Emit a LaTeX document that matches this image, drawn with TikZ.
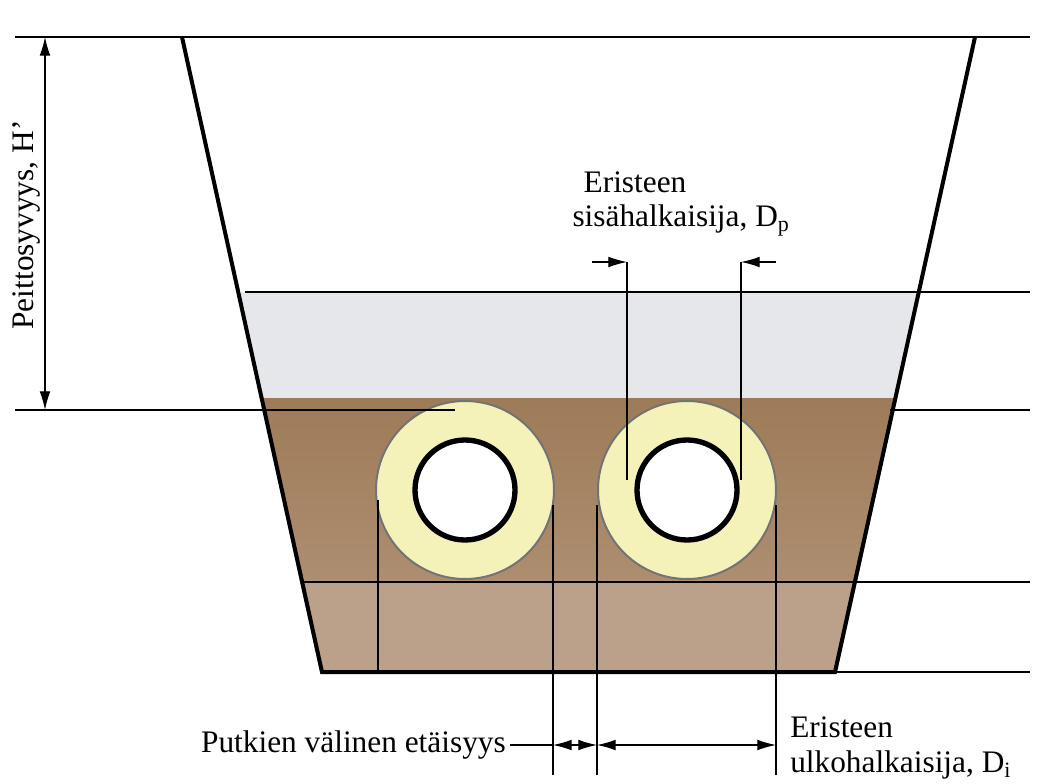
\documentclass[tikz,border=0pt]{standalone}
\usepackage{fontspec}
\setmainfont{Liberation Serif}
\usetikzlibrary{arrows.meta}
\definecolor{soilgray}{HTML}{E6E7EA}
\definecolor{soiltop}{HTML}{9E7B58}
\definecolor{soilmid}{HTML}{AD8E70}
\definecolor{soilbot}{HTML}{BBA18A}
\definecolor{insul}{HTML}{F4F1B9}
\tikzset{%
    thin line/.style={draw, line width=0.8pt},
    wall/.style={draw, line width=3pt},
    dim/.style={draw, line width=0.8pt, {Latex[length=14pt,width=8pt]}-{Latex[length=14pt,width=8pt]}},
    lbl/.style={font=\fontsize{23.5}{27}\selectfont, inner sep=0pt}
  }
\begin{document}
\begin{tikzpicture}[x=0.75pt, y=-0.75pt]
      \useasboundingbox (0,0) rectangle (1063,784);
      % soil layers
      \fill [soilgray] (237,292) -- (921,292) -- (897,400) -- (261,400) -- cycle;
      \shade [top color=soiltop, bottom color=soilmid] (261,398) -- (897,398) -- (857,582) -- (300,582) -- cycle;
      \fill [soilbot] (300,582) -- (857,582) -- (837,672) -- (320,672) -- cycle;
      \draw [thin line] (245,292) -- (1030,292);
      \draw [thin line] (890,410) -- (1030,410);
      \draw [thin line] (302,582) -- (1030,582);
      \draw [thin line] (835,672) -- (1030,672);
      \draw [thin line] (135,37) -- (1030,37);
      % trench
      \draw [wall] (182,37) -- (322,672) -- (835,672) -- (975,37);

      % pipes
      \foreach \cx/\nm in {465/p1, 687/p2} {
        \draw [fill=insul, line width=1.5pt, draw=black!55] (\cx,490) circle (89);
        \draw [fill=white, line width=4pt] (\cx,490) circle (50);
        \coordinate (\nm) at (\cx,490);
      }

      % cover depth
      \coordinate (ht) at (45,37);
      \coordinate (hb) at (45,410);
      \draw [thin line] (15,37) -- (135,37);
      \draw [thin line] (15,410) -- (455,410);
      \draw [dim] (ht) -- (hb);
      \node [lbl, rotate=90] (hlab) at (26,225) {Peittosyvyys, H'};

      % inner diameter
      \draw [thin line] (627,262) -- (627,480);
      \draw [thin line] (741,262) -- (741,480);
      \draw [thin line, -{Latex[length=14pt,width=8pt]}] (592,262) -- (627,262);
      \draw [thin line, -{Latex[length=14pt,width=8pt]}] (776,262) -- (741,262);
      \node [lbl] (dp1) at (635,182) {Eristeen};
      \node [lbl] (dp2) at (681,220) {sisähalkaisija, D\textsubscript{p}};

      % spacing and outer diameter
      \draw [thin line] (378,500) -- (378,672);
      \draw [thin line] (553,505) -- (553,775);
      \draw [thin line] (597,505) -- (597,775);
      \draw [thin line] (776,505) -- (776,775);
      \coordinate (s1) at (553,745);
      \coordinate (s2) at (597,745);
      \coordinate (s3) at (776,745);
      \draw [thin line] (510,745) -- (s1);
      \draw [dim] (s1) -- (s2);
      \draw [dim] (s2) -- (s3);
      \node [lbl, anchor=east] (sp) at (506,745) {Putkien välinen etäisyys};
      \node [lbl, anchor=west] (di1) at (790,727) {Eristeen};
      \node [lbl, anchor=west] (di2) at (790,765) {ulkohalkaisija, D\textsubscript{i}};
\end{tikzpicture}
\end{document}
